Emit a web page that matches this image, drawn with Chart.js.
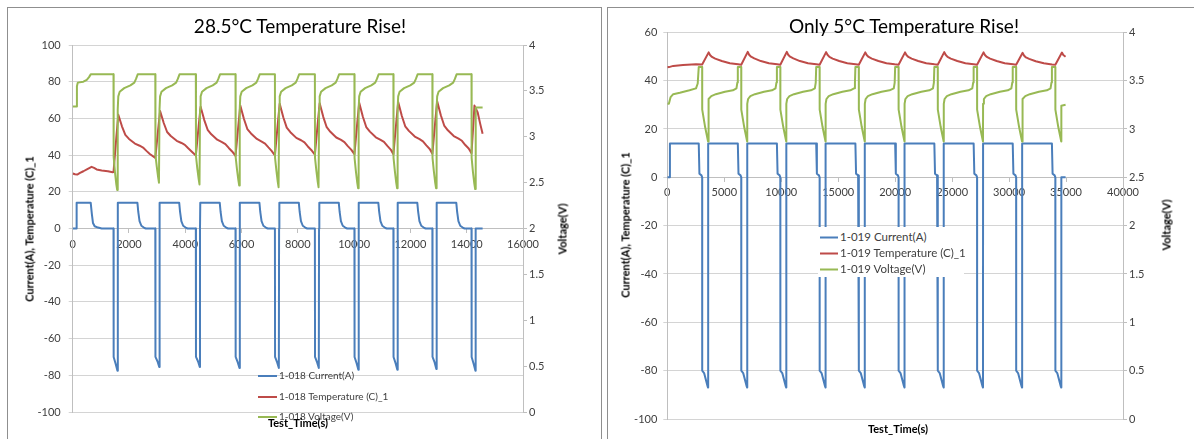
<!DOCTYPE html>
<html>
<head>
<meta charset="utf-8">
<script src="https://cdn.jsdelivr.net/npm/chart.js@4.4.1/dist/chart.umd.min.js"></script>
<style>
  body { margin: 0; width: 1194px; height: 439px; overflow: hidden; background: #fff; position: relative;
         font-family: Lato, "Liberation Sans", sans-serif; color: #404040; }
  .panel { position: absolute; top: 7px; height: 440px; border: 1px solid #8f8f8f; background: #fff; overflow: hidden; }
  #pl { left: 7px; width: 593px; }
  #pr { left: 607px; width: 600px; }
  canvas { position: absolute; left: 0; top: 0; }
  .title { position: absolute; font-size: 19px; color: #000; white-space: nowrap; transform: translate(-50%, -50%); }
  .ytitle { position: absolute; font-size: 11px; font-weight: bold; color: #000; white-space: nowrap;
            transform: translate(-50%, -50%) rotate(-90deg); }
  .xtitle { position: absolute; font-size: 11px; font-weight: bold; color: #000; white-space: nowrap;
            transform: translate(-50%, -50%); z-index: 3; }
  .legend { position: absolute; background: #fff; z-index: 2; }
  .legend .row { position: absolute; white-space: nowrap; transform: translateY(-50%); }
  .legend .row i { display: inline-block; height: 2px; vertical-align: middle; margin-right: 2px; }
</style>
</head>
<body>
<div class="panel" id="pl">
  <canvas id="leftChart" width="592" height="431"></canvas>
  <div class="title" style="left:292px;top:17px">28.5°C Temperature Rise!</div>
  <div class="ytitle" style="left:21px;top:221px">Current(A), Temperature (C)_1</div>
  <div class="ytitle" style="left:554px;top:221px">Voltage(V)</div>
  <div class="legend" id="legL" style="left:248px;top:358px;width:130px;height:62px;background:transparent"></div>
  <div class="xtitle" style="left:290px;top:414px">Test_Time(s)</div>
</div>
<div class="panel" id="pr">
  <canvas id="rightChart" width="586" height="431"></canvas>
  <div class="title" style="left:296px;top:17px">Only 5°C Temperature Rise!</div>
  <div class="ytitle" style="left:17px;top:217px">Current(A), Temperature (C)_1</div>
  <div class="ytitle" style="left:558px;top:217px">Voltage(V)</div>
  <div class="legend" id="legR" style="left:210px;top:219px;width:146px;height:50px"></div>
  <div class="xtitle" style="left:290px;top:420px">Test_Time(s)</div>
</div>
<script>
// ---- axes (min, max, step) ----
const leftTimeAxis = [0, 16000, 2000];
const leftMainAxis = [-100, 100, 20];
const rightTimeAxis = [0, 40000, 5000];
const rightMainAxis = [-100, 60, 20];
const voltAxis = [0, 4, 0.5];

const leftNames = ['1-018 Current(A)', '1-018 Temperature (C)_1', '1-018 Voltage(V)'];
const rightNames = ['1-019 Current(A)', '1-019 Temperature (C)_1', '1-019 Voltage(V)'];

// ---- 1-018 : [Test_Time(s), value] ----
const leftCurrent = [
  [0,0],[130,0],[140,14],[640,14],[680,8],[720,3],[780,1.2],[900,0.5],[1030,0],
  [1450,0],[1455,-70],[1530,-74],[1590,-77.5],[1598,0],[1608,14],[2300,14],[2330,9],[2375,4],[2440,1.5],[2550,0.3],[2600,0],
  [2935,0],[2940,-70],[3015,-72.5],[3075,-75.5],[3083,0],[3093,14],[3785,14],[3815,9],[3860,4],[3925,1.5],[4035,0.3],[4085,0],
  [4375,0],[4380,-70],[4455,-72.5],[4515,-75.5],[4523,0],[4533,14],[5225,14],[5255,9],[5300,4],[5365,1.5],[5475,0.3],[5525,0],
  [5785,0],[5790,-70],[5865,-73],[5925,-76],[5933,0],[5943,14],[6635,14],[6665,9],[6710,4],[6775,1.5],[6885,0.3],[6935,0],
  [7185,0],[7190,-70],[7265,-73],[7325,-76],[7333,0],[7343,14],[8035,14],[8065,9],[8110,4],[8175,1.5],[8285,0.3],[8335,0],
  [8605,0],[8610,-70],[8685,-73],[8745,-76],[8753,0],[8763,14],[9455,14],[9485,9],[9530,4],[9595,1.5],[9705,0.3],[9755,0],
  [10010,0],[10015,-70],[10090,-73.5],[10150,-77],[10158,0],[10168,14],[10860,14],[10890,9],[10935,4],[11000,1.5],[11110,0.3],[11160,0],
  [11395,0],[11400,-70],[11475,-73.5],[11535,-77],[11543,0],[11553,14],[12245,14],[12275,9],[12320,4],[12385,1.5],[12495,0.3],[12545,0],
  [12780,0],[12785,-70],[12860,-73],[12920,-76.5],[12928,0],[12938,14],[13630,14],[13660,9],[13705,4],[13770,1.5],[13880,0.3],[13930,0],
  [14170,0],[14175,-70],[14250,-74],[14310,-77.5],[14318,0],[14565,0]
];
const leftTemp = [
  [0,30],[80,29.6],[160,29.4],[260,30.3],[380,31.2],[520,32.4],[670,33.6],[760,33],[850,32.2],[1030,31.6],[1250,31.2],[1420,30.7],
  [1450,30.8],[1550,49.5],[1620,62],[1750,55.7],[1870,51],[2000,48.8],[2210,46.3],[2380,45.1],[2500,44.1],[2620,42.3],[2740,40.6],
  [2935,38.5],[3035,53.8],[3105,64],[3235,57.5],[3355,52.6],[3485,50.4],[3695,47.8],[3865,46.6],[3985,45.6],[4105,43.7],[4225,42],
  [4375,39.8],[4475,55.7],[4545,66.3],[4675,59.1],[4795,53.8],[4925,51.3],[5135,48.4],[5305,47.1],[5425,46],[5545,43.9],[5665,42],
  [5785,39.6],[5885,56],[5955,67],[6085,59.7],[6205,54.2],[6335,51.8],[6545,48.8],[6715,47.4],[6835,46.3],[6955,44.2],[7075,42.2],
  [7185,39.8],[7285,56.7],[7355,68],[7485,60.5],[7605,55],[7735,52.5],[7945,49.4],[8115,48.1],[8235,46.9],[8355,44.7],[8475,42.8],
  [8605,40.3],[8705,57],[8775,68.2],[8905,60.7],[9025,55.2],[9155,52.7],[9365,49.6],[9535,48.3],[9655,47.1],[9775,44.9],[9895,43],
  [10010,40.5],[10110,57.3],[10180,68.5],[10310,60.9],[10430,55.3],[10560,52.8],[10770,49.7],[10940,48.3],[11060,47.2],[11180,45],[11300,43],
  [11395,40.5],[11495,57.5],[11565,68.9],[11695,61.3],[11815,55.7],[11945,53.2],[12155,50.1],[12325,48.7],[12445,47.5],[12565,45.3],[12685,43.3],
  [12780,40.8],[12880,58],[12950,69.4],[13080,61.7],[13200,56.1],[13330,53.5],[13540,50.4],[13710,49],[13830,47.8],[13950,45.5],[14070,43.6],
  [14170,41],[14240,58],[14275,67],[14390,63.2],[14480,57],[14565,51.6]
];
const leftVoltage = [
  [0,3.33],[135,3.33],[150,3.55],[180,3.59],[380,3.6],[500,3.62],[580,3.65],[640,3.68],
  [1450,3.68],[1455,2.78],[1500,2.62],[1550,2.48],[1580,2.42],[1600,3.3],[1620,3.44],[1670,3.49],[1830,3.53],[2050,3.56],[2190,3.59],[2250,3.63],[2310,3.68],
  [2935,3.68],[2940,2.8],[2985,2.68],[3035,2.56],[3065,2.5],[3085,3.3],[3105,3.44],[3155,3.49],[3315,3.53],[3535,3.56],[3675,3.59],[3735,3.63],[3795,3.68],
  [4375,3.68],[4380,2.79],[4425,2.66],[4475,2.54],[4505,2.48],[4525,3.3],[4545,3.44],[4595,3.49],[4755,3.53],[4975,3.56],[5115,3.59],[5175,3.63],[5235,3.68],
  [5785,3.68],[5790,2.78],[5835,2.65],[5885,2.53],[5915,2.47],[5935,3.3],[5955,3.44],[6005,3.49],[6165,3.53],[6385,3.56],[6525,3.59],[6585,3.63],[6645,3.68],
  [7185,3.68],[7190,2.77],[7235,2.64],[7285,2.51],[7315,2.45],[7335,3.3],[7355,3.44],[7405,3.49],[7565,3.53],[7785,3.56],[7925,3.59],[7985,3.63],[8045,3.68],
  [8605,3.68],[8610,2.77],[8655,2.64],[8705,2.51],[8735,2.45],[8755,3.3],[8775,3.44],[8825,3.49],[8985,3.53],[9205,3.56],[9345,3.59],[9405,3.63],[9465,3.68],
  [10010,3.68],[10015,2.77],[10060,2.63],[10110,2.5],[10140,2.44],[10160,3.3],[10180,3.44],[10230,3.49],[10390,3.53],[10610,3.56],[10750,3.59],[10810,3.63],[10870,3.68],
  [11395,3.68],[11400,2.77],[11445,2.63],[11495,2.5],[11525,2.44],[11545,3.3],[11565,3.44],[11615,3.49],[11775,3.53],[11995,3.56],[12135,3.59],[12195,3.63],[12255,3.68],
  [12780,3.68],[12785,2.77],[12830,2.63],[12880,2.5],[12910,2.44],[12930,3.3],[12950,3.44],[13000,3.49],[13160,3.53],[13380,3.56],[13520,3.59],[13580,3.63],[13640,3.68],
  [14170,3.68],[14175,2.77],[14220,2.62],[14270,2.49],[14300,2.43],[14320,3.32],[14565,3.32]
];

// ---- 1-019 ----
const rightCurrent = [
  [0,0],[200,0],[230,14],[2760,14],[2820,1.5],[3000,0.8],
  [3060,0],[3065,-80],[3230,-81],[3540,-86.5],[3580,-87],[3588,14],[6190,14],[6250,1.5],[6430,0.8],
  [6490,0],[6495,-80],[6660,-81],[6970,-86.5],[7010,-87],[7018,14],[9620,14],[9680,1.5],[9860,0.8],
  [9920,0],[9925,-80],[10090,-81],[10400,-86.5],[10440,-87],[10448,14],[13070,14],[13130,1.5],[13310,0.8],
  [13370,0],[13375,-80],[13540,-81],[13850,-86.5],[13890,-87],[13898,14],[16510,14],[16570,1.5],[16750,0.8],
  [16810,0],[16815,-80],[16980,-81],[17290,-86.5],[17330,-87],[17338,14],[20000,14],[20060,1.5],[20240,0.8],
  [20300,0],[20305,-80],[20470,-81],[20780,-86.5],[20820,-87],[20828,14],[23440,14],[23500,1.5],[23680,0.8],
  [23740,0],[23745,-80],[23910,-81],[24220,-86.5],[24260,-87],[24268,14],[26890,14],[26950,1.5],[27130,0.8],
  [27190,0],[27195,-80],[27360,-81],[27670,-86.5],[27710,-87],[27718,14],[30320,14],[30380,1.5],[30560,0.8],
  [30620,0],[30625,-80],[30790,-81],[31100,-86.5],[31140,-87],[31148,14],[33760,14],[33820,1.5],[34000,0.8],
  [34060,0],[34065,-80],[34230,-81],[34540,-86.5],[34580,-87],[34588,0],[34960,0]
];
const rightTemp = [
  [0,45.5],[150,45.6],[520,46.1],[1380,46.5],[2520,46.8],
  [3060,46.7],[3630,51.7],[3750,50.6],[3920,49.8],[4204,49.1],[4780,48.1],[5490,47.2],[6210,46.75],
  [6490,46.6],[7060,51.9],[7180,50.7],[7350,49.9],[7634,49.2],[8210,48.1],[8920,47.2],[9640,46.8],
  [9920,46.6],[10490,51.9],[10610,50.7],[10780,49.9],[11064,49.2],[11640,48.1],[12350,47.2],[13070,46.8],
  [13370,46.6],[13940,51.8],[14060,50.7],[14230,49.8],[14514,49.1],[15090,48.1],[15800,47.2],[16520,46.8],
  [16810,46.6],[17380,51.7],[17500,50.6],[17670,49.8],[17954,49.1],[18530,48.1],[19240,47.2],[19960,46.75],
  [20300,46.6],[20870,51.7],[20990,50.6],[21160,49.8],[21444,49.1],[22020,48.1],[22730,47.2],[23450,46.75],
  [23740,46.6],[24310,51.8],[24430,50.7],[24600,49.8],[24884,49.1],[25460,48.1],[26170,47.2],[26890,46.8],
  [27190,46.6],[27760,51.7],[27880,50.6],[28050,49.8],[28334,49.1],[28910,48.1],[29620,47.2],[30340,46.75],
  [30620,46.6],[31190,51.5],[31310,50.4],[31480,49.6],[31764,49],[32340,48],[33050,47.2],[33770,46.7],
  [34060,46.6],[34640,51.6],[34760,50.6],[34960,49.9]
];
const rightVoltage = [
  [0,3.26],[140,3.26],[290,3.33],[520,3.36],[1100,3.375],[1950,3.4],[2520,3.42],[2670,3.47],[2760,3.64],
  [3060,3.64],[3065,3.2],[3320,3.02],[3580,2.87],[3588,3.26],[3660,3.31],[3860,3.34],[4260,3.36],[5060,3.385],[5760,3.4],[6070,3.42],[6150,3.48],[6190,3.64],
  [6490,3.64],[6495,3.2],[6750,3.02],[7010,2.87],[7018,3.26],[7090,3.31],[7290,3.34],[7690,3.36],[8490,3.385],[9190,3.4],[9500,3.42],[9580,3.48],[9620,3.64],
  [9920,3.64],[9925,3.2],[10180,3.02],[10440,2.87],[10448,3.26],[10520,3.31],[10720,3.34],[11120,3.36],[11920,3.385],[12620,3.4],[12950,3.42],[13030,3.48],[13070,3.64],
  [13370,3.64],[13375,3.2],[13630,3.02],[13890,2.87],[13898,3.26],[13970,3.31],[14170,3.34],[14570,3.36],[15370,3.385],[16070,3.4],[16390,3.42],[16470,3.48],[16510,3.64],
  [16810,3.64],[16815,3.2],[17070,3.02],[17330,2.87],[17338,3.26],[17410,3.31],[17610,3.34],[18010,3.36],[18810,3.385],[19510,3.4],[19880,3.42],[19960,3.48],[20000,3.64],
  [20300,3.64],[20305,3.2],[20560,3.02],[20820,2.87],[20828,3.26],[20900,3.31],[21100,3.34],[21500,3.36],[22300,3.385],[23000,3.4],[23320,3.42],[23400,3.48],[23440,3.64],
  [23740,3.64],[23745,3.2],[24000,3.02],[24260,2.87],[24268,3.26],[24340,3.31],[24540,3.34],[24940,3.36],[25740,3.385],[26440,3.4],[26770,3.42],[26850,3.48],[26890,3.64],
  [27190,3.64],[27195,3.2],[27450,3.02],[27710,2.87],[27718,3.26],[27790,3.31],[27990,3.34],[28390,3.36],[29190,3.385],[29890,3.4],[30200,3.42],[30280,3.48],[30320,3.64],
  [30620,3.64],[30625,3.2],[30880,3.02],[31140,2.87],[31148,3.26],[31220,3.31],[31420,3.34],[31820,3.36],[32620,3.385],[33320,3.4],[33640,3.42],[33720,3.48],[33760,3.64],
  [34060,3.64],[34065,3.2],[34320,3.02],[34580,2.87],[34588,3.24],[34960,3.25]
];

const colors = ['#4a7ebb', '#be4b48', '#98b954'];

Chart.defaults.font.family = 'Lato, "Liberation Sans", sans-serif';
Chart.defaults.font.size = 11;
Chart.defaults.color = '#404040';

function pts(list) {
  return list.map(p => ({ x: p[0], y: p[1] }));
}

function series(label, list, color, axis, order) {
  return {
    label: label,
    data: pts(list),
    borderColor: color,
    backgroundColor: color,
    borderWidth: 2,
    borderJoinStyle: 'round',
    pointRadius: 0,
    tension: 0,
    yAxisID: axis,
    order: order
  };
}

function makeChart(id, names, cur, temp, volt, xAxis, yAxis, lay) {
  const ctx = document.getElementById(id).getContext('2d');
  return new Chart(ctx, {
    type: 'line',
    data: {
      datasets: [
        series(names[0], cur, colors[0], 'y', 3),
        series(names[1], temp, colors[1], 'y', 2),
        series(names[2], volt, colors[2], 'y1', 1)
      ]
    },
    options: {
      responsive: false,
      animation: false,
      events: [],
      layout: { padding: { left: 0, right: 0, top: lay.top, bottom: lay.bottom } },
      plugins: { legend: { display: false }, tooltip: { enabled: false }, title: { display: false } },
      scales: {
        x: {
          type: 'linear',
          position: { y: 0 },
          min: xAxis[0], max: xAxis[1],
          ticks: { stepSize: xAxis[2], autoSkip: false, maxRotation: 0, padding: 5, callback: v => String(v) },
          grid: { drawOnChartArea: false, tickLength: 4, color: '#bfbfbf' },
          border: { color: '#bfbfbf' }
        },
        y: {
          position: 'left',
          min: yAxis[0], max: yAxis[1],
          ticks: { stepSize: yAxis[2], padding: lay.yPad, callback: v => String(v) },
          grid: { color: '#d4d4d4', tickLength: 4 },
          border: { color: '#bfbfbf' },
          afterFit: s => { s.width = lay.yWidth; }
        },
        y1: {
          position: 'right',
          min: voltAxis[0], max: voltAxis[1],
          ticks: { stepSize: voltAxis[2], padding: 2, callback: v => String(v) },
          grid: { drawOnChartArea: false, tickLength: 4, color: '#bfbfbf' },
          border: { color: '#bfbfbf' },
          afterFit: s => { s.width = lay.y1Width; }
        }
      }
    }
  });
}

function buildLegend(id, names, rows, lineW, fontSize) {
  const box = document.getElementById(id);
  names.forEach((n, i) => {
    const r = document.createElement('div');
    r.className = 'row';
    r.style.left = '2px';
    r.style.top = rows[i] + 'px';
    r.style.fontSize = fontSize + 'px';
    r.innerHTML = '<i style="width:' + lineW + 'px;background:' + colors[i] + '"></i>' + n;
    box.appendChild(r);
  });
}

makeChart('leftChart', leftNames, leftCurrent, leftTemp, leftVoltage, leftTimeAxis, leftMainAxis,
  { top: 37, bottom: 27, yWidth: 64.7, y1Width: 77, yPad: 8 });
makeChart('rightChart', rightNames, rightCurrent, rightTemp, rightVoltage, rightTimeAxis, rightMainAxis,
  { top: 24.3, bottom: 20, yWidth: 59.3, y1Width: 71, yPad: 6 });

buildLegend('legL', leftNames, [9, 30, 50], 19, 10);
buildLegend('legR', rightNames, [9, 25, 41], 18, 11.5);
</script>
</body>
</html>
